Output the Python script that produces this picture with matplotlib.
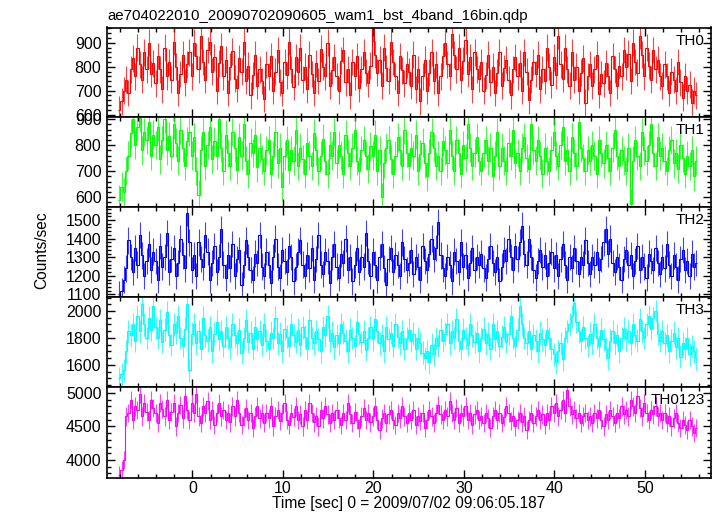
import numpy as np
import matplotlib
matplotlib.use("Agg")
import matplotlib.pyplot as plt
from matplotlib.ticker import MultipleLocator

plt.rcParams['font.family'] = ['Liberation Sans', 'DejaVu Sans']

TITLE = "ae704022010_20090702090605_wam1_bst_4band_16bin.qdp"
XLABEL = "Time [sec] 0 = 2009/07/02 09:06:05.187"
YLABEL = "Counts/sec"

BIN_WIDTH = 0.25
T_START = -8.2  # left edge of first bin

th0 = [620, 655, 700, 745, 690, 790, 835, 760, 880, 810, 745, 860, 790, 900, 770, 815,
       730, 845, 790, 705, 880, 760, 820, 745, 905, 800, 690, 770, 850, 735, 810, 860,
       760, 900, 845, 790, 930, 820, 745, 870, 905, 780, 840, 700, 815, 885, 760, 830,
       690, 800, 865, 750, 710, 835, 780, 905, 740, 805, 680, 765, 850, 720, 790, 740,
       665, 810, 760, 845, 700, 780, 870, 735, 690, 820, 765, 905, 790, 715, 840, 780,
       880, 745, 800, 705, 850, 770, 690, 815, 740, 875, 800, 760, 900, 720, 785, 840,
       760, 700, 825, 870, 735, 790, 680, 820, 760, 845, 710, 790, 860, 775, 730, 805,
       960, 850, 775, 830, 720, 880, 795, 740, 905, 820, 760, 690, 845, 785, 730, 810,
       780, 720, 850, 705, 790, 655, 760, 830, 700, 775, 860, 740, 810, 690, 760, 845,
       900, 810, 760, 935, 850, 790, 880, 745, 825, 910, 770, 840, 705, 860, 790, 750,
       820, 700, 765, 850, 735, 800, 690, 775, 860, 720, 795, 830, 745, 680, 790, 840,
       760, 815, 700, 860, 780, 660, 745, 820, 770, 850, 705, 790, 740, 880, 800, 725,
       840, 765, 930, 810, 750, 880, 790, 720, 860, 745, 800, 700, 775, 835, 650, 760,
       810, 720, 790, 850, 685, 770, 730, 815, 760, 690, 845, 790, 720, 805, 760, 870,
       800, 855, 740, 900, 820, 775, 930, 850, 760, 880, 805, 745, 870, 790, 830, 760,
       720, 810, 760, 690, 780, 745, 700, 820, 735, 670, 760, 700, 725, 650, 700, 680]

th1 = [590, 640, 620, 700, 760, 845, 900, 800, 870, 905, 780, 850, 820, 890, 760, 840,
       800, 870, 745, 820, 900, 780, 835, 760, 880, 810, 740, 860, 790, 720, 815, 850,
       760, 830, 700, 610, 780, 850, 720, 800, 870, 745, 815, 760, 900, 790, 700, 840,
       770, 720, 850, 790, 705, 830, 760, 880, 740, 690, 810, 770, 840, 715, 790, 745,
       700, 780, 820, 690, 760, 850, 730, 790, 640, 760, 820, 705, 780, 740, 860, 720,
       790, 745, 690, 810, 760, 720, 845, 780, 700, 760, 825, 740, 690, 800, 760, 850,
       730, 800, 760, 690, 840, 770, 720, 790, 860, 740, 700, 780, 820, 760, 710, 795,
       760, 840, 700, 780, 600, 730, 790, 820, 745, 690, 760, 830, 780, 720, 860, 770,
       720, 790, 760, 840, 700, 765, 810, 730, 680, 770, 850, 790, 720, 760, 700, 815,
       780, 730, 860, 760, 700, 820, 770, 690, 800, 750, 880, 790, 720, 770, 830, 740,
       700, 770, 820, 740, 790, 680, 760, 850, 720, 790, 740, 700, 810, 760, 860, 730,
       770, 700, 790, 830, 750, 710, 880, 780, 740, 820, 760, 690, 790, 740, 700, 780,
       850, 760, 720, 800, 870, 740, 780, 700, 830, 770, 720, 890, 790, 750, 700, 780,
       740, 800, 760, 690, 820, 770, 730, 800, 750, 700, 790, 860, 760, 720, 780, 740,
       700, 790, 575, 740, 820, 760, 720, 850, 780, 740, 800, 880, 770, 720, 830, 760,
       790, 740, 700, 780, 820, 730, 770, 710, 800, 750, 690, 760, 720, 780, 680, 740]

th2 = [1100, 1120, 1180, 1240, 1390, 1300, 1220, 1350, 1260, 1420, 1310, 1200, 1280, 1370, 1230, 1330,
       1280, 1180, 1360, 1250, 1300, 1430, 1220, 1290, 1350, 1200, 1270, 1400, 1310, 1240, 1540, 1380,
       1230, 1310, 1200, 1380, 1290, 1250, 1420, 1330, 1180, 1270, 1360, 1220, 1300, 1450, 1260, 1190,
       1310, 1240, 1370, 1200, 1290, 1340, 1150, 1260, 1390, 1300, 1230, 1180, 1320, 1270, 1420, 1250,
       1200, 1330, 1260, 1160, 1300, 1400, 1250, 1190, 1340, 1280, 1220, 1360, 1300, 1170, 1250, 1330,
       1390, 1260, 1200, 1310, 1240, 1350, 1180, 1290, 1420, 1260, 1210, 1330, 1280, 1160, 1300, 1370,
       1250, 1190, 1320, 1270, 1400, 1230, 1300, 1170, 1260, 1350, 1220, 1300, 1250, 1430, 1280, 1200,
       1330, 1260, 1180, 1300, 1370, 1240, 1150, 1290, 1350, 1220, 1310, 1260, 1200, 1380, 1290, 1230,
       1270, 1340, 1210, 1300, 1250, 1180, 1360, 1280, 1230, 1320, 1400, 1290, 1350, 1490, 1310, 1240,
       1200, 1300, 1260, 1170, 1330, 1280, 1220, 1380, 1250, 1310, 1190, 1270, 1350, 1230, 1300, 1260,
       1320, 1240, 1190, 1290, 1360, 1270, 1220, 1300, 1170, 1250, 1340, 1280, 1400, 1300, 1230, 1360,
       1290, 1380, 1470, 1320, 1260, 1400, 1300, 1230, 1190, 1280, 1340, 1250, 1310, 1200, 1270, 1330,
       1240, 1310, 1200, 1290, 1370, 1260, 1180, 1300, 1240, 1350, 1280, 1210, 1300, 1260, 1390, 1270,
       1210, 1300, 1260, 1330, 1230, 1290, 1380, 1450, 1320, 1400, 1270, 1220, 1300, 1250, 1180, 1290,
       1340, 1260, 1310, 1200, 1280, 1360, 1230, 1300, 1250, 1190, 1320, 1280, 1230, 1350, 1270, 1210,
       1300, 1240, 1370, 1260, 1200, 1310, 1250, 1180, 1290, 1340, 1230, 1280, 1200, 1320, 1250, 1270]

th3 = [1500, 1530, 1560, 1700, 1850, 1820, 1900, 1780, 1960, 1850, 2050, 1900, 1800, 1950, 1860, 2040,
       1880, 1800, 1930, 1770, 1860, 1990, 1820, 1750, 1900, 1840, 1960, 1800, 1740, 1870, 2050, 1560,
       1830, 1900, 1760, 1850, 1720, 1950, 1820, 1780, 1880, 1700, 1830, 1920, 1790, 1850, 1740, 1880,
       1800, 1730, 1900, 1820, 1760, 1860, 1690, 1800, 1930, 1770, 1840, 1720, 1880, 1790, 1850, 1750,
       1900, 1780, 1720, 1840, 1800, 1950, 1760, 1830, 1700, 1870, 1810, 1740, 1900, 1820, 1770, 1860,
       1750, 1880, 1810, 1720, 1930, 1800, 1760, 1850, 1790, 1700, 1880, 1820, 1960, 1780, 1840, 1730,
       1820, 1760, 1900, 1840, 1780, 1700, 1860, 1800, 1740, 1920, 1830, 1770, 1850, 1710, 1800, 1880,
       1790, 1940, 1850, 1760, 1820, 1700, 1880, 1790, 1840, 1740, 1900, 1810, 1760, 1850, 1720, 1800,
       1860, 1780, 1830, 1720, 1800, 1760, 1690, 1650, 1700, 1620, 1750, 1680, 1800, 1740, 1860, 1780,
       1830, 1900, 1760, 1850, 1800, 1940, 1780, 1720, 1860, 1800, 1750, 1900, 1820, 1770, 1840, 1700,
       1800, 1870, 1760, 1830, 1720, 1900, 1790, 1850, 1740, 1810, 1880, 1770, 1830, 1960, 1800, 1740,
       1860, 2040, 1900, 1800, 1760, 1850, 1720, 1820, 1780, 1700, 1840, 1790, 1750, 1860, 1800, 1720,
       1680, 1620, 1700, 1760, 1640, 1800, 1850, 1900, 1960, 2060, 1920, 1850, 1780, 1880, 1800, 1740,
       1830, 1760, 1900, 1800, 1740, 1860, 1790, 1720, 1650, 1780, 1850, 1760, 1820, 1700, 1800, 1870,
       1790, 1850, 1760, 1900, 1820, 1780, 1940, 1850, 1800, 1900, 1960, 1870, 1950, 2000, 1830, 1780,
       1850, 1760, 1820, 1700, 1780, 1840, 1730, 1800, 1660, 1760, 1720, 1800, 1680, 1740, 1700, 1650]

th0123 = [3780, 3850, 4000, 4650, 4700, 4900, 4600, 4800, 4750, 4980, 4650, 4850, 4720, 4600, 4900, 4780,
          4700, 4550, 4850, 4760, 4650, 4900, 4600, 4720, 4850, 4500, 4700, 4820, 4620, 4950, 4750, 4600,
          4850, 4700, 4980, 4650, 4550, 4800, 4700, 4880, 4600, 4750, 4520, 4700, 4850, 4650, 4750, 4600,
          4700, 4560, 4800, 4650, 4900, 4700, 4520, 4640, 4780, 4600, 4700, 4480, 4650, 4800, 4620, 4700,
          4550, 4700, 4620, 4800, 4500, 4650, 4750, 4580, 4700, 4850, 4600, 4520, 4700, 4640, 4800, 4600,
          4680, 4500, 4750, 4600, 4850, 4700, 4560, 4650, 4500, 4750, 4620, 4800, 4680, 4550, 4700, 4600,
          4750, 4620, 4520, 4700, 4600, 4850, 4680, 4550, 4720, 4600, 4480, 4650, 4780, 4600, 4700, 4560,
          4650, 4800, 4600, 4450, 4620, 4700, 4550, 4680, 4750, 4600, 4520, 4700, 4620, 4800, 4650, 4550,
          4700, 4600, 4750, 4520, 4650, 4580, 4700, 4480, 4600, 4750, 4650, 4550, 4700, 4820, 4680, 4600,
          4750, 4650, 4880, 4700, 4600, 4780, 4550, 4700, 4650, 4800, 4600, 4700, 4520, 4680, 4750, 4600,
          4650, 4550, 4700, 4620, 4480, 4650, 4750, 4600, 4700, 4550, 4640, 4800, 4700, 4580, 4650, 4500,
          4600, 4700, 4560, 4650, 4450, 4600, 4700, 4550, 4650, 4750, 4600, 4680, 4520, 4700, 4600, 4800,
          4700, 4850, 4650, 4750, 4900, 4700, 5050, 4800, 4680, 4750, 4620, 4700, 4550, 4650, 4700, 4600,
          4650, 4550, 4700, 4620, 4750, 4600, 4500, 4680, 4600, 4750, 4650, 4550, 4700, 4620, 4800, 4680,
          4750, 4650, 4900, 4800, 4700, 4950, 4780, 4650, 4850, 4700, 4600, 4750, 4680, 4800, 4650, 4700,
          4600, 4700, 4550, 4650, 4500, 4620, 4700, 4550, 4480, 4600, 4520, 4450, 4600, 4500, 4400, 4480]

panel_names = ["TH0", "TH1", "TH2", "TH3", "TH0123"]
panel_data = [th0, th1, th2, th3, th0123]
panel_errors = [56, 55, 71, 85, 136]
panel_colors = ["#ff0000", "#00ff00", "#0000ff", "#00ffff", "#ff00ff"]
panel_ylims = [(592, 964), (562, 910), (1089, 1570), (1439, 2108), (3731, 5097)]
panel_major = [100, 100, 100, 200, 500]
panel_minor = [20, 20, 20, 50, 100]
XLIM = (-9.44, 57.3)

W, H = 717, 516
fig = plt.figure(figsize=(W / 100, H / 100), dpi=100)

left, right = 107, 711
bounds = [27.5, 116.5, 207.0, 296.5, 386.5, 478.0]

axes = []
for k in range(5):
    top, bot = bounds[k], bounds[k + 1]
    ax = fig.add_axes([left / W, 1 - bot / H, (right - left) / W, (bot - top) / H])
    axes.append(ax)
    vals = np.array(panel_data[k], dtype=float)
    n = len(vals)
    edges = T_START + BIN_WIDTH * np.arange(n + 1)
    centers = 0.5 * (edges[:-1] + edges[1:])
    col = panel_colors[k]
    ax.stairs(vals, edges, edgecolor=col, lw=0.8, baseline=None, fill=False)
    ax.errorbar(centers, vals, yerr=panel_errors[k], fmt='none', ecolor=col,
                elinewidth=0.8, capsize=0, alpha=0.75)
    ax.set_xlim(*XLIM)
    ax.set_ylim(*panel_ylims[k])
    ax.xaxis.set_major_locator(MultipleLocator(10))
    ax.xaxis.set_minor_locator(MultipleLocator(2))
    ax.yaxis.set_major_locator(MultipleLocator(panel_major[k]))
    ax.yaxis.set_minor_locator(MultipleLocator(panel_minor[k]))
    ax.tick_params(which='both', direction='in', top=True, right=True,
                   labelsize=11.5, width=1.0, colors='black')
    ax.tick_params(which='major', length=6, pad=4)
    ax.tick_params(axis='x', which='major', pad=2)
    ax.tick_params(which='minor', length=3)
    for s in ax.spines.values():
        s.set_linewidth(1.2)
    if k < 4:
        ax.tick_params(labelbottom=False)
    ax.text(0.99, 0.93, panel_names[k], transform=ax.transAxes, ha='right', va='top',
            fontsize=11)

axes[0].text(0.0, 1.05, TITLE, transform=axes[0].transAxes, ha='left', va='bottom',
             fontsize=10.8)
axes[-1].set_xlabel(XLABEL, fontsize=11.2, labelpad=0)
fig.text(42 / W, 1 - 250 / H, YLABEL, rotation=90, ha='center', va='center', fontsize=11.2)

fig.savefig("out.png", dpi=100)
